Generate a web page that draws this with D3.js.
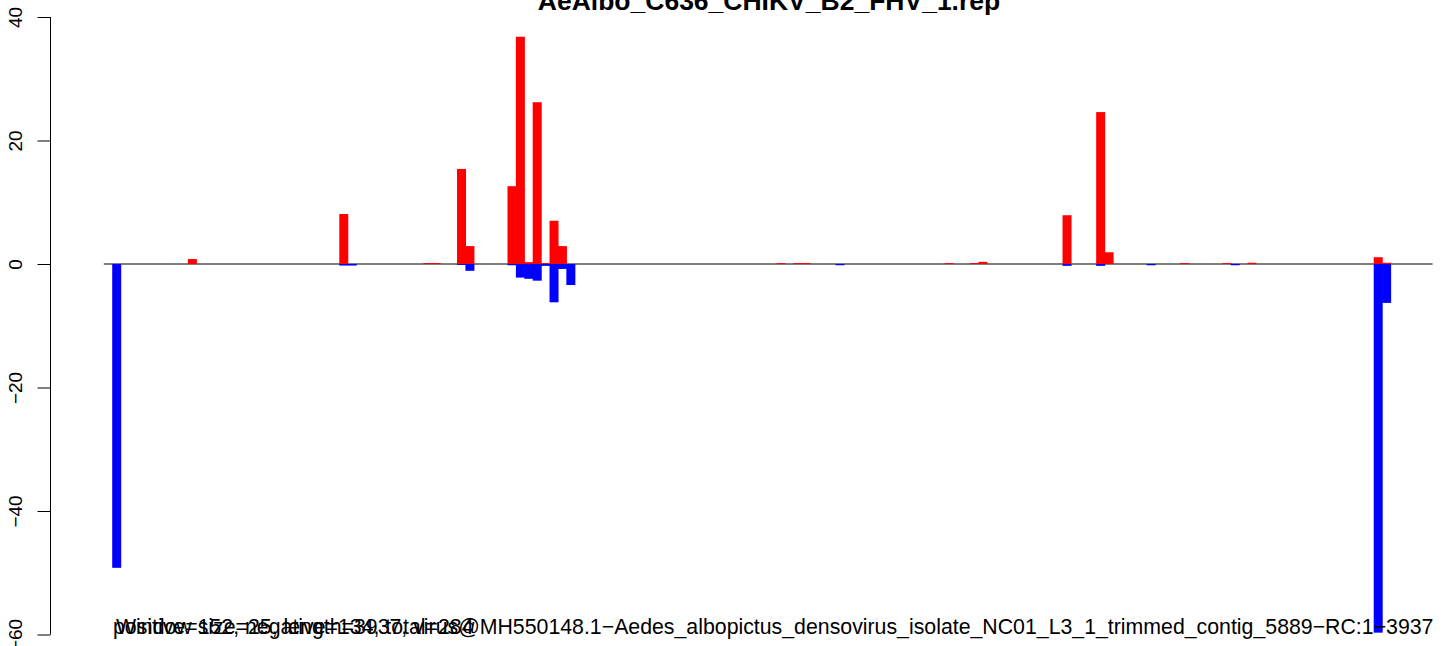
<!DOCTYPE html>
<html lang="en">
<head>
    <meta charset="utf-8">
    <title>AeAlbo_C636_CHIKV_B2_FHV_1.rep</title>
    <script src="https://d3js.org/d3.v7.min.js"></script>
    <style type="text/css">
        body { margin: 0; background: white; }
        text { font-family: "Liberation Sans", Arial, sans-serif; }
        .axis path, .axis line { stroke: black; stroke-width: 1px; }
        .baseline { stroke: #555; stroke-width: 1.3px; }
    </style>
</head>
<body>
<script type="text/javascript">
    const w = 1444;
    const h = 646;

    // data: window size 25 nt over a 3937 nt contig
    const windowSize = 25;
    const seqLength = 3937;
    const title = "AeAlbo_C636_CHIKV_B2_FHV_1.rep";
    const subCounts = "positive=152, negative=134, total=284";
    const subInfo = "Window size=25, length=3937, virus@MH550148.1\u2212Aedes_albopictus_densovirus_isolate_NC01_L3_1_trimmed_contig_5889\u2212RC:1\u22123937";
    const yTicks = [-60, -40, -20, 0, 20, 40];

    // positive strand counts (window index -> value)
    const posWindows = [10, 28, 38, 39, 42, 43, 48, 49, 50, 51, 52, 53, 54, 80, 82, 83, 100, 103, 104, 114, 118, 119, 128, 133, 136, 151, 152];
    const posValues  = [0.8, 8.1, 0.15, 0.15, 15.4, 2.9, 12.6, 36.8, 0.3, 26.2, 0.15, 7.0, 2.9, 0.15, 0.15, 0.15, 0.15, 0.15, 0.35, 7.9, 24.6, 1.9, 0.15, 0.15, 0.2, 1.1, 0.2];

    // negative strand counts
    const negWindows = [1, 28, 29, 42, 43, 48, 49, 50, 51, 52, 53, 54, 55, 87, 114, 118, 124, 134, 151, 152];
    const negValues  = [-49.2, -0.25, -0.25, -0.15, -1.1, -0.2, -2.2, -2.4, -2.7, -0.3, -6.2, -0.8, -3.4, -0.2, -0.3, -0.3, -0.2, -0.2, -59.7, -6.3];

    const pos = posWindows.map((d, i) => ({ win: d, value: posValues[i] }));
    const neg = negWindows.map((d, i) => ({ win: d, value: negValues[i] }));

    const left = 103.8;
    const step = 8.41; // px per window
    const xScale = d3.scaleLinear()
        .domain([0, seqLength])
        .range([left, left + seqLength / windowSize * step]);

    const yScale = d3.scaleLinear()
        .domain([-60, 40])
        .range([634.5, 17]);

    const svg = d3.select("body")
        .append("svg")
        .attr("width", w)
        .attr("height", h);

    // y axis
    const leftAxis = d3.axisLeft(yScale)
        .tickValues(yTicks)
        .tickSize(13)
        .tickFormat(d => d < 0 ? "\u2212" + Math.abs(d) : d);

    const yAxis = svg.append("g")
        .attr("class", "axis")
        .attr("transform", "translate(50.5,0)")
        .call(leftAxis);
    yAxis.select(".domain")
        .attr("fill", "none")
        .attr("d", "M0," + yScale(-60) + "V" + yScale(40));
    yAxis.selectAll(".tick text")
        .attr("font-size", "19px")
        .attr("font-family", "Liberation Sans, Arial, sans-serif")
        .attr("fill", "black")
        .attr("x", 0)
        .attr("y", 0)
        .attr("dy", 0)
        .attr("text-anchor", "middle")
        .attr("transform", "translate(-28.5,0) rotate(-90)");

    // zero line
    svg.append("line")
        .attr("class", "baseline")
        .attr("x1", xScale(0))
        .attr("x2", xScale(3950))
        .attr("y1", yScale(0))
        .attr("y2", yScale(0));

    const barW = 9;

    svg.selectAll(".neg")
        .data(neg)
        .enter()
        .append("rect")
        .attr("class", "neg")
        .attr("x", d => xScale(d.win * windowSize))
        .attr("width", barW)
        .attr("y", yScale(0))
        .attr("height", d => yScale(d.value) - yScale(0))
        .attr("fill", "#0000ff");

    svg.selectAll(".pos")
        .data(pos)
        .enter()
        .append("rect")
        .attr("class", "pos")
        .attr("x", d => xScale(d.win * windowSize))
        .attr("width", barW)
        .attr("y", d => yScale(d.value))
        .attr("height", d => yScale(0) - yScale(d.value))
        .attr("fill", "#ff0000");

    // title (top is clipped by the page edge, as in the original)
    svg.append("text")
        .attr("x", 769)
        .attr("y", 10)
        .attr("text-anchor", "middle")
        .attr("font-size", "26.5px")
        .attr("font-weight", "bold")
        .attr("fill", "black")
        .text(title);

    // bottom labels (overlapping, as in the original)
    svg.append("text")
        .attr("x", 113)
        .attr("y", 634)
        .attr("font-size", "21.3px")
        .attr("fill", "black")
        .text(subCounts);

    svg.append("text")
        .attr("x", 116)
        .attr("y", 634)
        .attr("font-size", "21.3px")
        .attr("fill", "black")
        .text(subInfo);
</script>
</body>
</html>
